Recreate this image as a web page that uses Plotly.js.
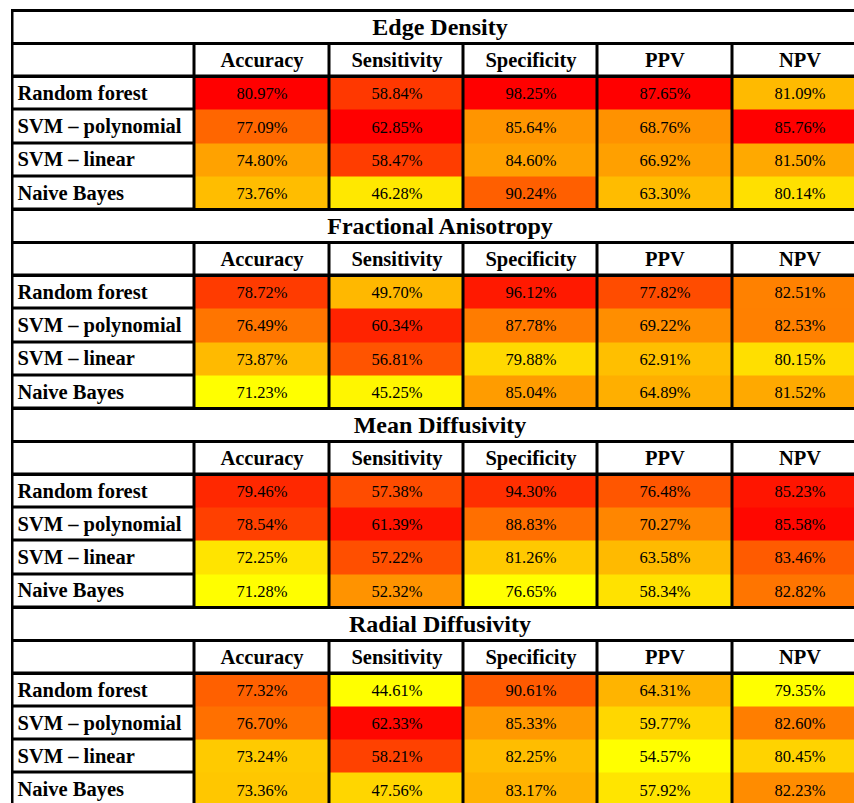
<!DOCTYPE html>
<html>
<head>
<meta charset="utf-8">
<script src="https://cdn.plot.ly/plotly-3.0.1.min.js"></script>
<style>html,body{margin:0;padding:0;background:#fff;}#chart{width:854px;height:803px;}</style>
</head>
<body>
<div id="chart"></div>
<script>
// ---- data ----
const sections = ["Edge Density", "Fractional Anisotropy", "Mean Diffusivity", "Radial Diffusivity"];
const metrics = ["Accuracy", "Sensitivity", "Specificity", "PPV", "NPV"];
const classifiers = ["Random forest", "SVM \u2013 polynomial", "SVM \u2013 linear", "Naive Bayes"];

const edgeDensity = [
  [80.97, 58.84, 98.25, 87.65, 81.09],
  [77.09, 62.85, 85.64, 68.76, 85.76],
  [74.80, 58.47, 84.60, 66.92, 81.50],
  [73.76, 46.28, 90.24, 63.30, 80.14]
];
const fractionalAnisotropy = [
  [78.72, 49.70, 96.12, 77.82, 82.51],
  [76.49, 60.34, 87.78, 69.22, 82.53],
  [73.87, 56.81, 79.88, 62.91, 80.15],
  [71.23, 45.25, 85.04, 64.89, 81.52]
];
const meanDiffusivity = [
  [79.46, 57.38, 94.30, 76.48, 85.23],
  [78.54, 61.39, 88.83, 70.27, 85.58],
  [72.25, 57.22, 81.26, 63.58, 83.46],
  [71.28, 52.32, 76.65, 58.34, 82.82]
];
const radialDiffusivity = [
  [77.32, 44.61, 90.61, 64.31, 79.35],
  [76.70, 62.33, 85.33, 59.77, 82.60],
  [73.24, 58.21, 82.25, 54.57, 80.45],
  [73.36, 47.56, 83.17, 57.92, 82.23]
];
const sectionValues = [edgeDensity, fractionalAnisotropy, meanDiffusivity, radialDiffusivity];

// ---- layout geometry (pixel-like units) ----
const colEdges = [0, 182, 317, 451, 585, 720, 855];
const rowsPerSection = 2 + classifiers.length;
const nRows = sections.length * rowsPerSection;
const rowPx = 33.15;
const rowEdges = Array.from({length: nRows + 1}, (_, i) => i);

const serif = "Liberation Serif, Times New Roman, serif";

// per-column min / max across all sections
const colMin = metrics.map((_, j) => Math.min(...sectionValues.flatMap(s => s.map(r => r[j]))));
const colMax = metrics.map((_, j) => Math.max(...sectionValues.flatMap(s => s.map(r => r[j]))));

const zData = [], tData = [];
const zWhite = [], tWhite = [];
const zTitle = [], tTitle = [];
const labelX = [], labelY = [], labelT = [];

for (let s = 0; s < sections.length; s++) {
  zTitle.push([0]); tTitle.push([sections[s]]);
  zWhite.push([null, null, null, null, null, null]); tWhite.push(["", "", "", "", "", ""]);
  zData.push([null, null, null, null, null]); tData.push(["", "", "", "", ""]);
  zTitle.push([null]); tTitle.push([""]);
  zWhite.push([0, 0, 0, 0, 0, 0]); tWhite.push([""].concat(metrics));
  zData.push([null, null, null, null, null]); tData.push(["", "", "", "", ""]);
  sectionValues[s].forEach((row, r) => {
    zTitle.push([null]); tTitle.push([""]);
    zWhite.push([0, null, null, null, null, null]); tWhite.push(["", "", "", "", "", ""]);
    zData.push(row.map((v, j) => (v - colMin[j]) / (colMax[j] - colMin[j])));
    tData.push(row.map(v => v.toFixed(2) + "%"));
    labelX.push(5);
    labelY.push(s * rowsPerSection + 2 + r + 0.55);
    labelT.push(classifiers[r]);
  });
}

// horizontal full-width rules (section top, title/header, header/data)
const ruleVals = [];
for (let s = 0; s < sections.length; s++) {
  ruleVals.push(s * rowsPerSection, s * rowsPerSection + 1, s * rowsPerSection + 2);
}

const traces = [
  {
    type: "heatmap", x: [colEdges[0], colEdges[colEdges.length - 1]], y: rowEdges,
    z: zTitle, text: tTitle, texttemplate: "%{text}",
    textfont: {family: serif, size: 24, color: "#000", weight: "bold"},
    colorscale: [[0, "#ffffff"], [1, "#ffffff"]], zmin: 0, zmax: 1,
    showscale: false, hoverinfo: "skip", xgap: 3, ygap: 0
  },
  {
    type: "heatmap", x: colEdges, y: rowEdges,
    z: zWhite, text: tWhite, texttemplate: "%{text}",
    textfont: {family: serif, size: 20.5, color: "#000", weight: "bold"},
    colorscale: [[0, "#ffffff"], [1, "#ffffff"]], zmin: 0, zmax: 1,
    showscale: false, hoverinfo: "skip", xgap: 3, ygap: 3
  },
  {
    type: "heatmap", x: colEdges.slice(1), y: rowEdges,
    z: zData, text: tData, texttemplate: "%{text}",
    textfont: {family: serif, size: 16.5, color: "#000"},
    colorscale: [[0, "#FFFF00"], [1, "#FF0000"]], zmin: 0, zmax: 1,
    showscale: false, hoverinfo: "skip", xgap: 3, ygap: 0
  },
  {
    type: "scatter", mode: "text", x: labelX, y: labelY, text: labelT,
    textposition: "middle right",
    textfont: {family: serif, size: 20.5, color: "#000", weight: "bold"},
    hoverinfo: "skip", showlegend: false, cliponaxis: false
  }
];

const layout = {
  width: 854, height: 803,
  margin: {l: 11, r: 0, t: 9, b: 0, pad: 0},
  paper_bgcolor: "#ffffff", plot_bgcolor: "#000000",
  showlegend: false,
  xaxis: {range: [-1.5, 841.5], showgrid: false, zeroline: false, showticklabels: false, ticks: "", fixedrange: true},
  yaxis: {
    range: [(803 - 9 - 1.5) / rowPx, -1.5 / rowPx],
    autorange: false,
    showgrid: false, zeroline: false, showticklabels: false,
    tickmode: "array", tickvals: ruleVals,
    ticks: "inside", ticklen: 900, tickwidth: 3, tickcolor: "#000000",
    layer: "above traces", fixedrange: true
  }
};

Plotly.newPlot("chart", traces, layout, {displayModeBar: false, staticPlot: true});
</script>
</body>
</html>
